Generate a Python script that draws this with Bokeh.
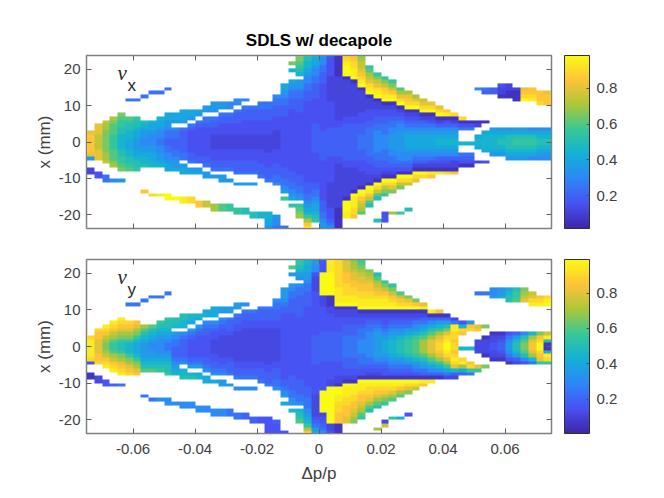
import numpy as np
from bokeh.embed import file_html
from bokeh.layouts import column
from bokeh.models import ColorBar, FixedTicker, Label, LinearAxis, LinearColorMapper, Range1d
from bokeh.plotting import figure
from bokeh.resources import INLINE

# colour levels, one cell = 0.0025 wide, 1 mm tall
# each column: "top_edge:values going down"
LEVELS = "abcdefghijklmnopqrst"
LEVEL_VALUES = [0.06, 0.115, 0.15, 0.19, 0.24, 0.30, 0.35, 0.40, 0.45, 0.50,
                0.55, 0.60, 0.65, 0.70, 0.75, 0.80, 0.85, 0.90, 0.95, 1.00]

NUX_COLS = [
    "3:pqqqqqp -4:g -7:bb",
    "5:pppooooppp -8:cc",
    "6:onnmmmmmmnno -9:ee",
    "7:nmlllkkkklllmn -10:f",
    "8:mlkkjjiiiijjkklm -10:g",
    "12:e 7:lkjjiihhhiijjkl",
    "12:e 7:kjjihhggghhijjk",
    "13:e 6:jihggffgghiij -13:q",
    "14:e 6:ihhgfffgghhii -14:r",
    "14:e 7:ihhgffeeffgghi -14:s",
    "15:e 8:hhggfeeddeeffghh -14:tt",
    "8:hhg 4:feedddeefggh -15:t",
    "9:hhhg 4:eddddddee -6:ghh -15:ss",
    "9:hhg 5:edccccccdde -7:gh -15:rr",
    "9:hg 6:edccccccccdd -7:gh -16:qq",
    "10:gg 7:eedccccccccdde -8:gg -16:oo",
    "11:ggg 7:eddccbbbbcccdde -9:g -17:nn",
    "11:gg 8:eddcccbbbbcccdde -9:gg -17:ll",
    "11:ff 8:eddcccbbbbcccdde -10:g -17:kk",
    "12:ff 9:edddcccbbbbcccddde -11:g -18:kk",
    "12:f 10:edddccccbbbbcccddde -11:g -18:jj",
    "10:edddccccbbbbcccddde -11:g -19:jj",
    "11:eedddccccbbbbccccddde -19:ii",
    "11:eedddccccbbbbbccccddde -19:iihhg",
    "13:feedddccccbbbbbccccdddeef -20:gffe",
    "16:hh 14:gfeedddccccccccccccccdddeefg -15:k -23:e",
    "22:m 20:i 17:hgfeedddcccccccccccccccccdddeefgh -17:k",
    "24:mmlkji 17:ggfeeddddcccccccccccccccccdddeefg -17:klmn",
    "24:jjiihgffeedddccccccccccccccccccccccdddeefghiknqr",
    "24:ihhgffeeddddcccccccddddddddccccccccddeefghhijk",
    "24:gffeedddcccccccccccccddddddddcccccccccccdddeefggh",
    "24:dcccccbbbbbbbcccccccddddddddcccccccbbbbbbbcccdef",
    "24:aaaaaabbbbbbbbbbbbccddddddddccbbbbbbbbbbbbaaaaaa",
    "24:qrstttabbbbbbbbbbccddddddddddccbbbbbbbbatttss",
    "24:pqrrsstabbbbbbbbbccddddddddddccbbbbbbatsssrrq",
    "24:mnoopqrstabbbbbbcccdddeeeedddcccbbbbatsqponl",
    "21:klnoprstabbbcccddeeeeeeeeddcccbbatsqolj",
    "19:kmoprstabbccddeeffffffeeddccbatrolj -21:j",
    "18:kmoqrstabccddeeeffffeeeddcbatromk -19:ccc",
    "17:kmoqstabccdeeffggggffeedcbatrpm -19:n",
    "15:lnprtabcdeffggggggffedcatrom -19:k",
    "14:npqrtabcdefghhhhgffedcatro -18:j",
    "13:nprtabcdefghhhhgfedbatrp",
    "12:oprtabdefghhhhgfedbatr",
    "11:prtabcefghhhhgfecbasq",
    "10:prtabdfghiihgfdcbas",
    "9:qsacdfghiihgfdcbar",
    "8:rabdfghiihgfdbbaq",
    "7:race 0:i -3:edca",
    "6:ace 0:i -3:edca",
    "15:f 6:ab 2:hiih -5:b",
    "15:ed 6:a 3:hiiiih -5:c",
    "15:dd 4:ghiiiihg",
    "16:cbba 4:ghijjihg",
    "16:bbaa 4:ghjjjjihg",
    "15:baaa 4:ghjkkjihg",
    "15:pqrt 4:ghjkkjihg",
    "15:qqrs 4:fhjkkjihf",
    "14:qqqr 4:fhijjihgf",
    "14:pqqq 4:fhijjihgf",
]

NUY_COLS = [
    "3:rsssssr -4:c -7:aa",
    "5:rqqppppqqr -8:bb",
    "6:srqonmmnoqrs -9:cc",
    "7:srqonlkklnoqrs -10:d",
    "8:srqpnmkjjkmnpqrs -10:e",
    "12:e 7:rqpnmkiiikmnpqr",
    "12:e 7:qpnmkihhhikmnpq",
    "13:e 6:nljihgggghijl -13:e",
    "14:e 6:ljihgffgghijl -14:e",
    "14:e 7:kjihgffffghijk -14:f",
    "15:e 8:kjjihgfeefghijjk -14:ff",
    "8:jji 4:gfeedddefghi -15:f",
    "9:jjii 4:fedddddef -6:iij -15:ff",
    "9:iih 5:gedcccccdeg -7:ij -15:ff",
    "9:ih 6:gedccccccdeg -7:hi -16:ff",
    "10:hh 7:feddccccccddef -8:hh -16:ff",
    "11:hhh 7:fedccbbbbccddef -9:h -17:ff",
    "11:gg 8:fedccbbbbbbccdef -9:gg -17:ff",
    "11:gg 8:edddcbbbbbbcddde -10:g -17:ee",
    "12:gg 9:eddccbbbbbbbbccdde -11:f -18:ee",
    "12:f 10:eddccbbbbbbbbbccdde -11:f -18:dd",
    "10:eddccbbbbbbbbbccdde -11:f -19:dd",
    "11:edddccbbbbbbbbbccddde -19:cc",
    "11:edddccbbbbbbbbbbccddde -19:ccccc",
    "13:feedddccbbbbbbbbbccdddeef -20:dccc",
    "16:gg 14:gfeddccccccccccccccccccddefg -15:h -23:c",
    "22:l 20:g 17:gfeeddddcccccccccccccccccddddeefg -17:i",
    "24:kkjigf 17:feeddddddcccccccccccccccccddddeef -17:ijkl",
    "24:iihhggfeeddddccccccccccccccccccccccdddeeefghiknq",
    "24:ggffcbbbbccccccccccccddddddddccccccccbbbbbbcdeghk",
    "24:dcccttttttbbbcccccccddddddddcccccccctttttt" + "bccdef",
    "24:ssssttttttaaabbcccccddddddddcccccbbttttttttttbbc",
    "24:rrrrrrrrsssstabbccccddddddddccccbbattssrrrqqqaaa",
    "24:opppqqqrrrsstabbccdddeeeeeedddccbatsssrrqqqpp",
    "24:mnnoppqqrrsstabbccdddeeeeeedddccbatssrrqqponm",
    "24:klmnoppqqrrsstabccdeeeffffeeedccatssrqqponlk",
    "21:mnopqqrrsstabcdeefffffffeedcbatsrrqpnlj",
    "20:jlnopqrsstabcdefgggggggfedcbatsrqpnlj -22:n",
    "18:kmoqrsstabccdefghhhhgfedccatsrqomk -20:bo",
    "17:kmoqrstabcdefghiiiihgfedcatsrpnl -19:k",
    "15:loqrtabcdefgijjjjigfedcatsqnl -19:h",
    "14:mprtabcdeghjkkkkjhgedcatrpm -18:c",
    "13:mqtabcefgikllllkigfecatro",
    "12:psabdeghjlnnnnljhgedasq",
    "10:sadfhjlnppppnljhfdas",
    "10:qadgiknpqrrqpnkigda",
    "9:adgjmprsttsrpnkheb",
    "8:bessrrqrrqrsrpidb",
    "7:cirq 0:i -3:rsnhd",
    "7:gqr 0:i -4:qrke",
    "15:e 6:pq 2:bbbb -5:pk",
    "15:e 6:m 3:abbbba -5:m",
    "16:ffg 4:abbccbba",
    "16:ggh 4:abcddcba",
    "16:hijj 4:cefggfeca",
    "16:jkkl 4:dgijjigdb",
    "16:mnop 4:fjlmmljfc",
    "15:oprs 4:inpqqpnie",
    "14:qrs 4:mqrttrqpk",
    "14:rst 4:osjaaisrk",
]

X_TICKS = [-0.06, -0.04, -0.02, 0, 0.02, 0.04, 0.06]
X_LABELS = ["-0.06", "-0.04", "-0.02", "0", "0.02", "0.04", "0.06"]
Y_TICKS = [-20, -10, 0, 10, 20]
Y_LABELS = ["-20", "-10", "0", "10", "20"]
CB_TICKS = [0.2, 0.4, 0.6, 0.8]

PARULA = [(62, 38, 168), (72, 82, 244), (46, 135, 247), (18, 177, 214),
          (55, 200, 151), (171, 199, 57), (254, 195, 56), (249, 251, 21)]


def make_palette(n=256):
    t = np.linspace(0, len(PARULA) - 1, n)
    out = []
    for v in t:
        i = min(int(v), len(PARULA) - 2)
        f = v - i
        c = [round(PARULA[i][k] * (1 - f) + PARULA[i + 1][k] * f) for k in range(3)]
        out.append("#%02x%02x%02x" % tuple(c))
    return out


def make_grid(cols):
    arr = np.full((48, 60), np.nan)
    for c, col in enumerate(cols):
        for seg in col.split():
            top, vals = seg.split(":")
            for k, ch in enumerate(vals):
                row = int(top) - 1 - k + 24
                if 0 <= row < 48:
                    arr[row, c] = LEVEL_VALUES[LEVELS.index(ch)]
    return arr


def panel(cols, low, high, sub, height, top, bottom, frame_h, title=None, xlabels=False):
    p = figure(width=656, height=height, frame_width=465, frame_height=frame_h,
               output_backend="svg", toolbar_location=None, title=title,
               x_range=Range1d(-0.075, 0.075), y_range=Range1d(-23.7, 23.7),
               min_border_left=86, min_border_right=105, min_border_top=top, min_border_bottom=bottom)
    p.background_fill_color = "white"
    p.grid.visible = False
    p.outline_line_color = "#808080"
    p.outline_line_width = 1.5

    mapper = LinearColorMapper(palette=make_palette(), low=low, high=high, nan_color="rgba(0,0,0,0)")
    p.image(image=[make_grid(cols)], x=-0.075, y=-24, dw=0.15, dh=48, color_mapper=mapper)

    for ax in [p.xaxis[0], p.yaxis[0]]:
        ax.major_tick_in = 5
        ax.major_tick_out = 0
        ax.minor_tick_line_color = None
        ax.axis_line_color = "#808080"
        ax.major_tick_line_color = "#606060"
        ax.major_label_text_font = "Liberation Sans"
        ax.major_label_text_font_size = "15px"
        ax.major_label_text_color = "#404040"
        ax.major_label_standoff = 6
        ax.axis_label_text_font = "Liberation Sans"
        ax.axis_label_text_font_size = "17px"
        ax.axis_label_text_font_style = "normal"
        ax.axis_label_text_color = "#404040"
    p.xaxis[0].ticker = FixedTicker(ticks=X_TICKS)
    p.yaxis[0].ticker = FixedTicker(ticks=Y_TICKS)
    p.yaxis[0].major_label_overrides = dict(zip(Y_TICKS, Y_LABELS))
    p.yaxis[0].axis_label = "x (mm)"
    p.yaxis[0].axis_label_standoff = 2
    if xlabels:
        p.xaxis[0].axis_label = "Δp/p"
        p.xaxis[0].major_label_overrides = dict(zip(X_TICKS, X_LABELS))
        p.xaxis[0].major_label_standoff = 10
        p.xaxis[0].axis_label_standoff = 7
    else:
        p.xaxis[0].major_label_overrides = {t: "" for t in X_TICKS}
        p.xaxis[0].major_label_text_font_size = "1px"
        p.xaxis[0].major_label_standoff = 0

    for where, ticks in [("above", X_TICKS), ("right", Y_TICKS)]:
        ax = LinearAxis(ticker=FixedTicker(ticks=ticks), major_tick_in=5, major_tick_out=0,
                        minor_tick_line_color=None, axis_line_color="#808080",
                        major_tick_line_color="#606060", major_label_text_font_size="1px",
                        major_label_overrides={t: "" for t in ticks}, major_label_standoff=0)
        p.add_layout(ax, where)

    cb = ColorBar(color_mapper=mapper, ticker=FixedTicker(ticks=CB_TICKS), width=25, height=frame_h,
                  location=(13, 0), padding=0, margin=0, bar_line_color="#303030", bar_line_width=1,
                  major_tick_in=3, major_tick_out=0, major_tick_line_color="#505050",
                  minor_tick_line_color=None, major_label_text_font="Liberation Sans",
                  major_label_text_font_size="15px", major_label_text_color="#404040",
                  label_standoff=7)
    p.add_layout(cb, "right")

    p.add_layout(Label(x=-0.0650, y=18.8, text="ν", text_font="Liberation Serif",
                       text_font_style="italic", text_font_size="21px", text_color="#262626",
                       text_baseline="alphabetic"))
    p.add_layout(Label(x=-0.0618, y=15.5, text=sub, text_font="Liberation Sans",
                       text_font_size="17px", text_color="#262626", text_baseline="alphabetic"))
    return p


top_plot = panel(NUX_COLS, 0.015, 0.985, "x", 248, 55, 20, 173, title="SDLS w/ decapole")
top_plot.title.align = "center"
top_plot.title.text_font = "Liberation Sans"
top_plot.title.text_font_size = "17px"
top_plot.title.text_font_style = "bold"
top_plot.title.text_color = "#000000"
top_plot.title.standoff = 12

bottom_plot = panel(NUY_COLS, 0.005, 0.99, "y", 235, 11, 50, 174, xlabels=True)

layout = column(top_plot, bottom_plot, spacing=0)
open("out.html", "w").write(file_html(layout, INLINE))
